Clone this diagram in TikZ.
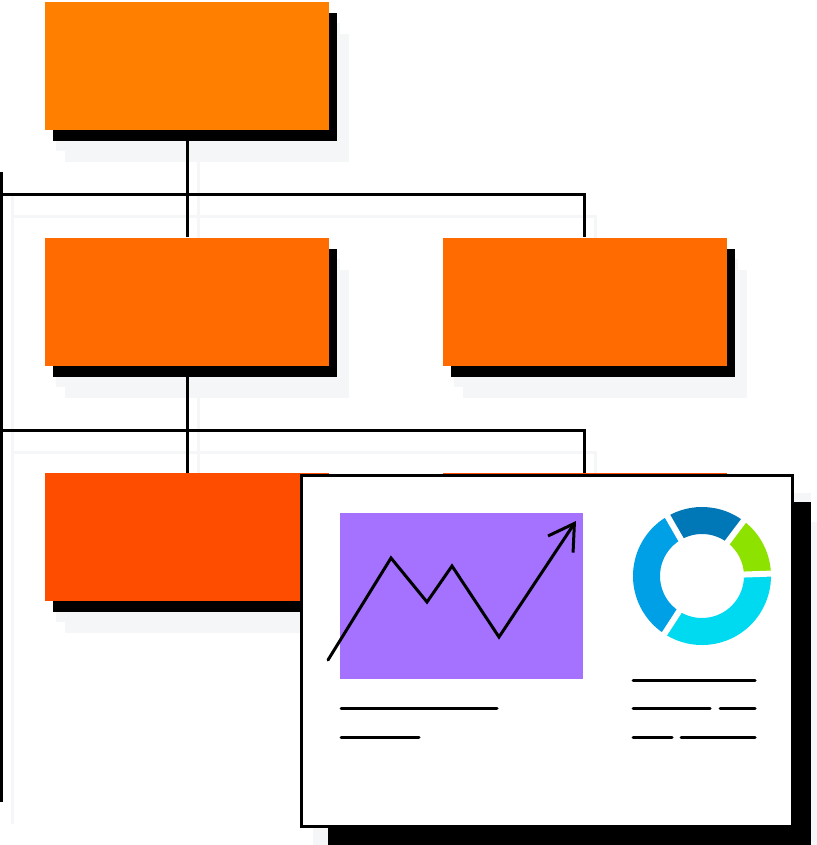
\documentclass[tikz,border=0pt]{standalone}
\usepackage{tikz}
\usetikzlibrary{positioning, shadows, arrows.meta, backgrounds}

\definecolor{tierone}{RGB}{255,128,0}
\definecolor{tiertwo}{RGB}{255,107,0}
\definecolor{tierthree}{RGB}{255,77,0}
\definecolor{haze}{RGB}{245,246,248}
\definecolor{chartbg}{RGB}{164,114,255}
\definecolor{ringdark}{RGB}{0,119,182}
\definecolor{ringgreen}{RGB}{142,226,0}
\definecolor{ringcyan}{RGB}{0,218,240}
\definecolor{ringblue}{RGB}{0,160,230}

\begin{document}
\begin{tikzpicture}[
    x=0.02cm, y=-0.02cm,
    node distance=2.14cm and 2.26cm,
    orgbox/.style={rectangle, minimum width=5.68cm, minimum height=2.56cm, inner sep=0pt,
        general shadow={fill=haze, shadow xshift=0.4cm, shadow yshift=-0.64cm},
        general shadow={fill=haze, shadow xshift=0.22cm, shadow yshift=-0.42cm},
        general shadow={fill=black, shadow xshift=0.16cm, shadow yshift=-0.22cm}},
    link/.style={line width=0.06cm},
    ghost/.style={draw=haze, line width=0.06cm},
    stroke/.style={line width=0.06cm, line cap=round},
    trend/.style={line width=0.06cm, line cap=round, -{Straight Barb[length=0.5cm, width=0.6cm]}}
]
\useasboundingbox (0,0) rectangle (817,845);

% org chart boxes
\node (head) [orgbox, fill=tierone] at (187,66) {};
\node (leadA) [orgbox, fill=tiertwo, below=of head] {};
\node (leadB) [orgbox, fill=tiertwo, right=of leadA] {};
\node (teamA) [orgbox, fill=tierthree, below=of leadA] {};
\node (teamB) [orgbox, fill=tierthree, right=of teamA] {};

% buses and the side rail
\coordinate (busA) at (0,194);
\coordinate (busB) at (0,430);
\coordinate (railtop) at (1.5,172);
\coordinate (railend) at (1.5,802);

\draw [link] (head) -- (leadA);
\draw [link] (busA) -| (leadB);
\draw [link] (leadA) -- (teamA);
\draw [link] (busB) -| (teamB);
\draw [link] (railtop) -- (railend);

% faint copies of the connectors
\begin{scope}[on background layer]
\begin{scope}[transform canvas={shift={(11,22)}}]
\draw [ghost] (head) -- (leadA);
\draw [ghost] (busA) -| (leadB);
\draw [ghost] (leadA) -- (teamA);
\draw [ghost] (busB) -| (teamB);
\draw [ghost] (railtop) -- (railend);
\end{scope}
\end{scope}

% report card
\fill [haze] (313,493) rectangle (811,845);
\fill [haze] (328,522) rectangle (817,845);
\fill [black] (328,502) rectangle (811,845);
\node (report) [draw, fill=white, line width=0.06cm, minimum width=9.82cm, minimum height=7.04cm, inner sep=0pt] at (547,651) {};

% line chart
\fill [chartbg] (340,513) rectangle (583,679);
\draw [trend] (328,660) -- (391,558) -- (427,602) -- (452,566) -- (499,637) -- (576,521);

% placeholder text
\draw [stroke] (341,708) -- (497,708);
\draw [stroke] (341,737) -- (419,737);
\draw [stroke] (633,680) -- (755,680);
\draw [stroke] (633,708) -- (710,708);
\draw [stroke] (720,708) -- (755,708);
\draw [stroke] (633,737) -- (672,737);
\draw [stroke] (681,737) -- (755,737);

% donut
\begin{scope}[shift={(702,576)}, yscale=-1]
\fill [ringdark] (53:69) arc[start angle=53, end angle=120, radius=69] -- (120:42) arc[start angle=120, end angle=53, radius=42] -- cycle;
\fill [ringgreen] (2:69) arc[start angle=2, end angle=53, radius=69] -- (53:42) arc[start angle=53, end angle=2, radius=42] -- cycle;
\fill [ringcyan] (-123:69) arc[start angle=-123, end angle=2, radius=69] -- (2:42) arc[start angle=2, end angle=-123, radius=42] -- cycle;
\fill [ringblue] (120:69) arc[start angle=120, end angle=237, radius=69] -- (237:42) arc[start angle=237, end angle=120, radius=42] -- cycle;
\draw [white, line width=0.12cm] (120:38) -- (120:73);
\draw [white, line width=0.12cm] (53:38) -- (53:73);
\draw [white, line width=0.12cm] (2:38) -- (2:73);
\draw [white, line width=0.12cm] (-123:38) -- (-123:73);
\end{scope}

\end{tikzpicture}
\end{document}
